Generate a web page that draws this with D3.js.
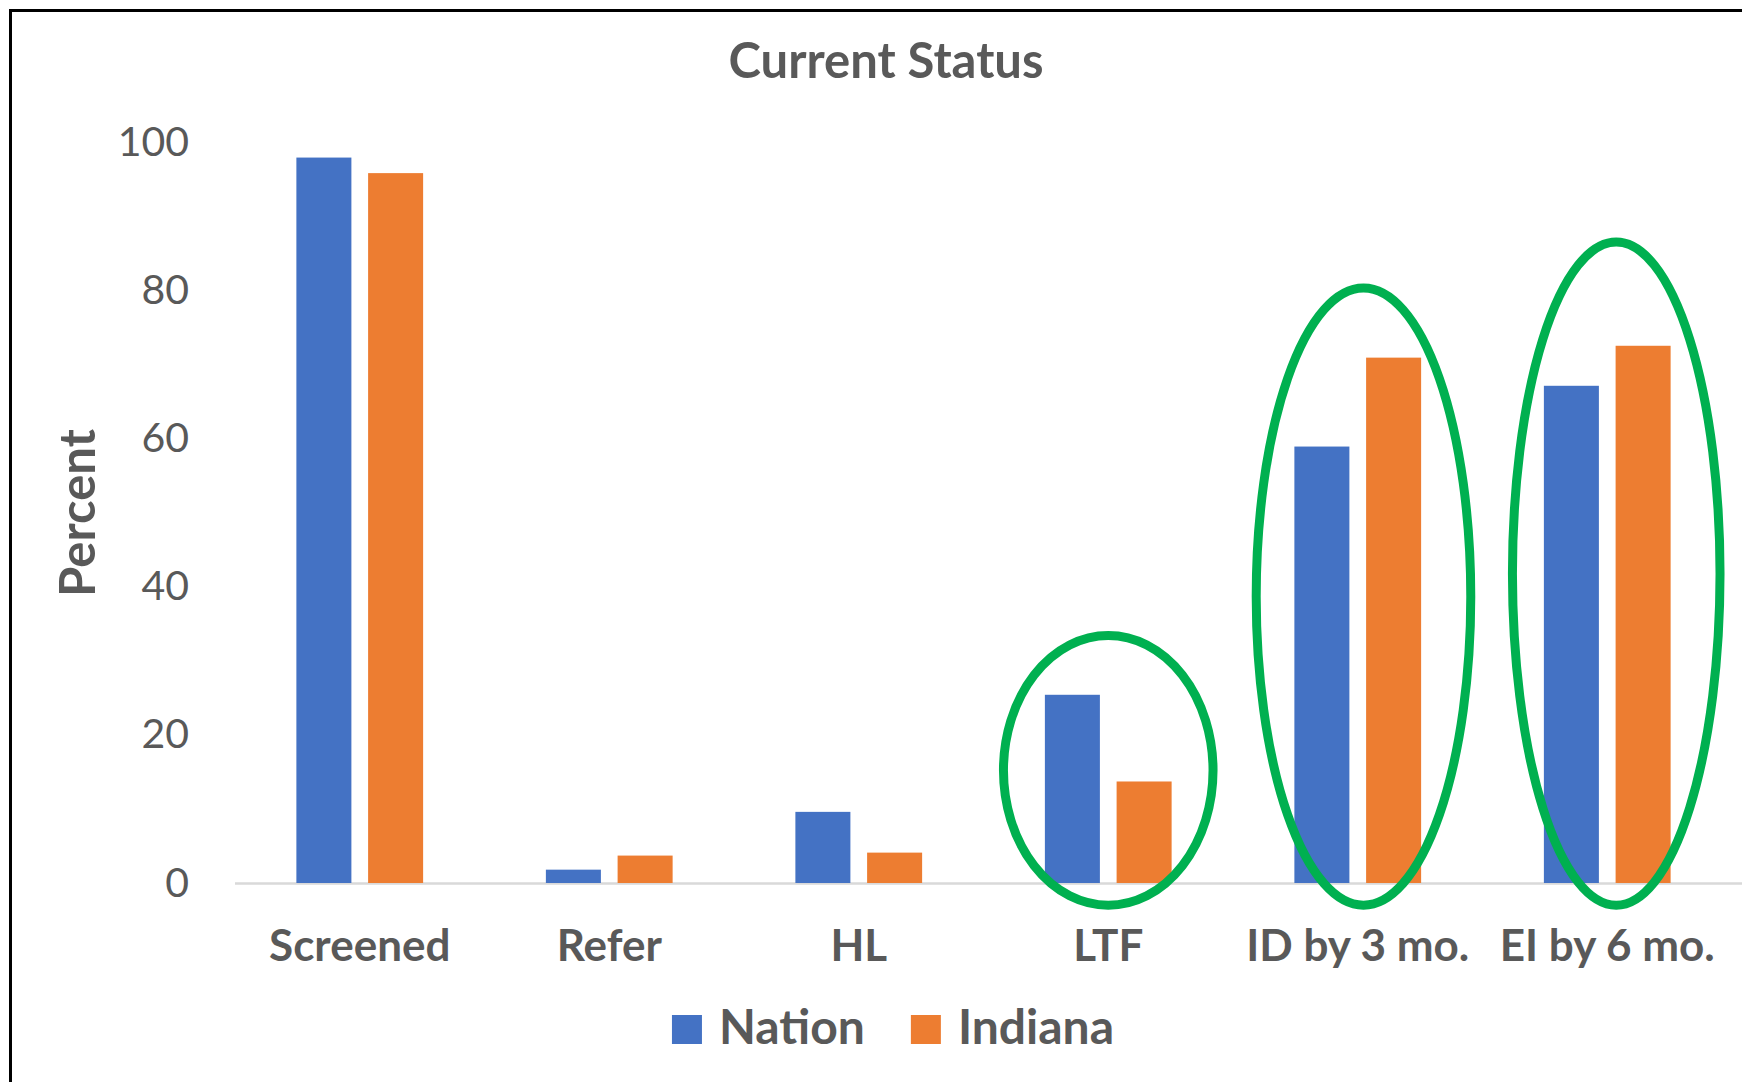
<!DOCTYPE html>
<html>
<head>
<style>
  body { margin: 0; background: #fff; }
  svg text { font-family: Lato, "Open Sans", sans-serif; fill: #595959; }
  .axis .domain { stroke: none; }
</style>
<script src="https://d3js.org/d3.v7.min.js"></script>
</head>
<body>
<svg id="chart" width="1742" height="1082"></svg>
<script>
// values
const categories = ["Screened", "Refer", "HL", "LTF", "ID by 3 mo.", "EI by 6 mo."];
const seriesNames = ["Nation", "Indiana"];
const nationValues = [97.9, 1.8, 9.6, 25.4, 58.9, 67.1];
const indianaValues = [95.8, 3.7, 4.1, 13.7, 70.9, 72.5];
const seriesColors = ["#4472C4", "#ED7D31"];
const yTicks = [0, 20, 40, 60, 80, 100];

// green rings drawn over three of the groups (in data units)
const ringCats = ["LTF", "ID by 3 mo.", "EI by 6 mo."];
const ringTop = [33.4, 80.3, 86.5];
const ringBottom = [-3.0, -3.0, -3.0];
const ringShift = [0.0, 0.023, 0.036];   // fraction of a category step
const ringHalfWidth = [0.42, 0.43, 0.416];

const svg = d3.select("svg#chart");
const width = +svg.attr("width");
const height = +svg.attr("height");
const margin = {top: 142, right: 10, bottom: 199, left: 235};
const plotRight = 1732;

// frame (only top and left edges fall inside the picture)
svg.append("path")
  .attr("d", "M10.5," + height + "V10.5H" + width)
  .attr("fill", "none")
  .attr("stroke", "#000")
  .attr("stroke-width", 3);

const x0 = d3.scaleBand().domain(categories)
  .range([margin.left, plotRight])
  .paddingInner(0.492).paddingOuter(0.246);
const x1 = d3.scaleBand().domain(seriesNames)
  .range([0, x0.bandwidth()])
  .paddingInner(0.233);
const y = d3.scaleLinear().domain([0, 100]).range([height - margin.bottom, margin.top]);

// title
svg.append("text")
  .attr("x", 886)
  .attr("y", 78)
  .attr("text-anchor", "middle")
  .style("font-size", "49px")
  .style("font-weight", "bold")
  .text("Current Status");

// y axis
let leftAxis = d3.axisLeft(y).tickValues(yTicks).tickSize(0).tickPadding(46);
svg.append("g")
  .attr("class", "y axis")
  .attr("transform", "translate(" + margin.left + ",0)")
  .call(leftAxis)
  .call(g => g.selectAll("text")
    .attr("fill", "#595959")
    .style("font-size", "41px")
    .style("font-family", "Lato, sans-serif"));

svg.append("text")
  .attr("transform", "translate(95,513) rotate(-90)")
  .attr("text-anchor", "middle")
  .style("font-size", "49px")
  .style("font-weight", "bold")
  .text("Percent");

// baseline
svg.append("line")
  .attr("x1", margin.left).attr("x2", width)
  .attr("y1", y(0) + 0.5).attr("y2", y(0) + 0.5)
  .attr("stroke", "#d9d9d9")
  .attr("stroke-width", 2.5);

// x axis labels
let bottomAxis = d3.axisBottom(x0).tickSize(0);
svg.append("g")
  .attr("class", "x axis")
  .attr("transform", "translate(0," + y(0) + ")")
  .call(bottomAxis)
  .call(g => g.selectAll("text")
    .attr("y", 78).attr("dy", 0)
    .attr("fill", "#595959")
    .style("font-size", "44px")
    .style("font-weight", "bold")
    .style("font-family", "Lato, sans-serif"));

// bars
const seriesValues = [nationValues, indianaValues];
const groups = svg.append("g").attr("id", "bars");
categories.forEach((c, i) => {
  seriesNames.forEach((s, j) => {
    const v = seriesValues[j][i];
    groups.append("rect")
      .attr("x", x0(c) + x1(s))
      .attr("y", y(v))
      .attr("width", x1.bandwidth())
      .attr("height", y(0) - y(v))
      .attr("fill", seriesColors[j]);
  });
});

// rings
const step = x0.step();
ringCats.forEach((c, i) => {
  const cy = (y(ringTop[i]) + y(ringBottom[i])) / 2;
  svg.append("ellipse")
    .attr("cx", x0(c) + x0.bandwidth() / 2 + ringShift[i] * step)
    .attr("cy", cy)
    .attr("rx", ringHalfWidth[i] * step)
    .attr("ry", (y(ringBottom[i]) - y(ringTop[i])) / 2)
    .attr("fill", "none")
    .attr("stroke", "#00B050")
    .attr("stroke-width", 9);
});

// legend
const legend = svg.append("g").attr("id", "legend");
let lx = 0;
seriesNames.forEach((s, j) => {
  legend.append("rect")
    .attr("x", lx).attr("y", 1015)
    .attr("width", 30).attr("height", 29)
    .attr("fill", seriesColors[j]);
  let t = legend.append("text")
    .attr("x", lx + 47).attr("y", 1044)
    .style("font-size", "48px")
    .style("font-weight", "bold")
    .text(s);
  lx += 47 + t.node().getComputedTextLength() + 46;
});
const legendWidth = lx - 46;
legend.attr("transform", "translate(" + (893 - legendWidth / 2) + ",0)");
</script>
</body>
</html>
